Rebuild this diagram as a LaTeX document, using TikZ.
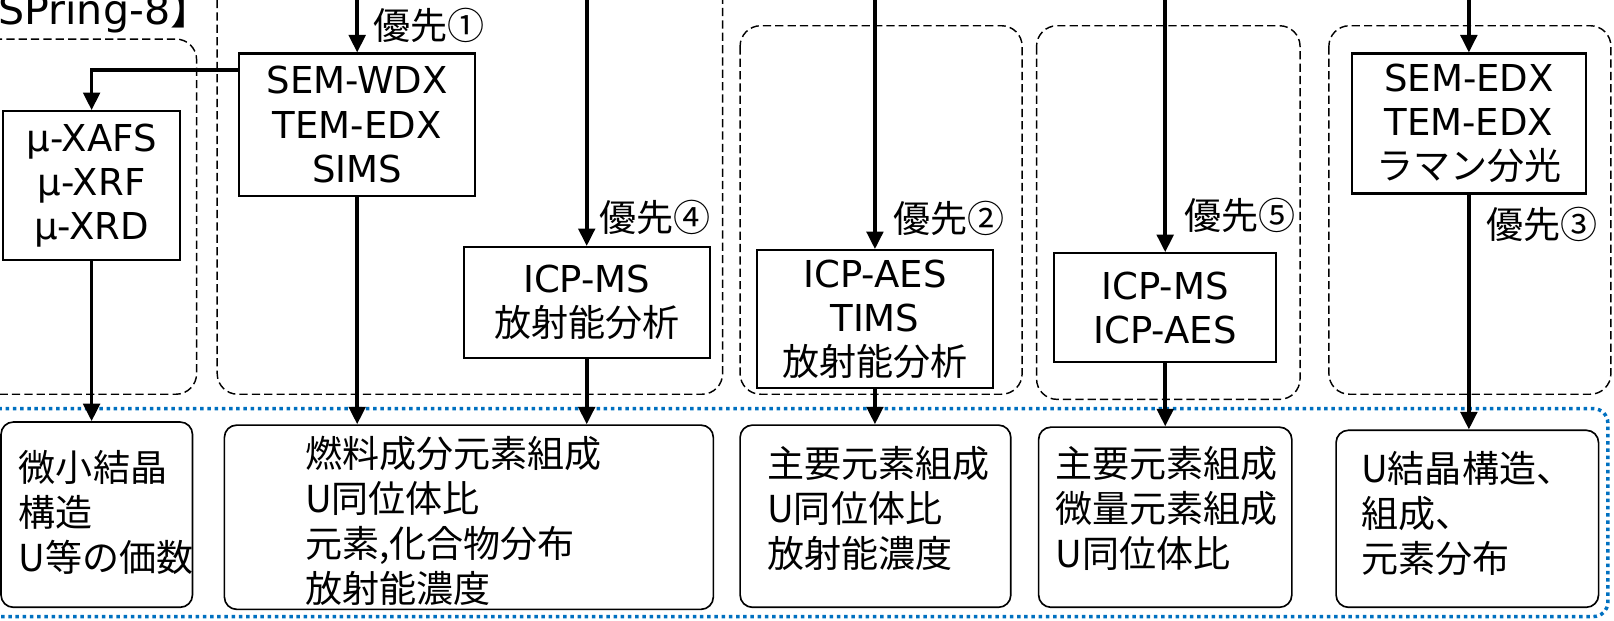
\documentclass[tikz,border=0pt]{standalone}
\usepackage{fontspec}
\setmainfont{DejaVu Sans}
\newfontfamily\jp{Noto Sans CJK JP}
\usetikzlibrary{arrows.meta,calc}
\definecolor{dotblue}{RGB}{0,112,192}
\begin{document}
\begin{tikzpicture}[x=0.5pt,y=-0.5pt,
  box/.style={draw, line width=1pt, inner sep=0pt, align=center, font=\fontsize{18}{21.5}\selectfont},
  res/.style={draw, line width=0.8pt, rounded corners=6pt, inner sep=0pt},
  restext/.style={align=left, inner sep=0pt, anchor=west, font=\jp\fontsize{18}{22}\selectfont},
  prio/.style={inner sep=0pt, font=\jp\fontsize{18}{18}\selectfont},
  grp/.style={draw, line width=0.7pt, dash pattern=on 4pt off 2pt, rounded corners=10pt},
  arr/.style={line width=1.8pt, -{Triangle[length=8.5pt,width=8pt]}},
]
\useasboundingbox (0,0) rectangle (1568,603);
\clip (0,0) rectangle (1568,603);

% title fragment
\node[anchor=base west, inner sep=0pt, font=\fontsize{20}{20}\selectfont] (title) at (-2,24) {SPring-8{\jp 】}};

% dashed groups
\draw[grp] (-20,38) rectangle (191,383);
\draw[grp] (211,-20) rectangle (702,383);
\draw[grp] (719,25) rectangle (993,383);
\draw[grp] (1007,25) rectangle (1263,388);
\draw[grp] (1291,25) rectangle (1565,383);

% blue dotted frame
\draw[dotblue, line width=1.7pt, dash pattern=on 1.7pt off 1.8pt, rounded corners=7pt] (-20,397) rectangle (1562,599);

% method boxes
\node[box, minimum width=86pt, minimum height=72.5pt] (mx) at (89,180.5) {μ-XAFS\\μ-XRF\\μ-XRD};
\node[box, minimum width=114.5pt, minimum height=69pt] (sw) at (347,121) {SEM-WDX\\TEM-EDX\\SIMS};
\node[box, minimum width=119.5pt, minimum height=54pt] (im1) at (570,294) {ICP-MS\\{\jp 放射能分析}};
\node[box, minimum width=115pt, minimum height=67pt] (ia) at (850,310) {ICP-AES\\TIMS\\{\jp 放射能分析}};
\node[box, minimum width=108pt, minimum height=53pt] (im2) at (1132,299) {ICP-MS\\ICP-AES};
\node[box, minimum width=114pt, minimum height=68pt] (se) at (1427,120) {SEM-EDX\\TEM-EDX\\{\jp ラマン分光}};

% priority labels
\node[prio] (p1) at (417,25) {優先①};
\node[prio] (p4) at (636,211) {優先④};
\node[prio] (p2) at (922,212) {優先②};
\node[prio] (p5) at (1205,209) {優先⑤};
\node[prio] (p3) at (1498,218) {優先③};

% result boxes
\node[res, minimum width=93pt, minimum height=90pt] (b1) at (94,500) {};
\node[res, minimum width=237.5pt, minimum height=89.5pt] (b2) at (455.5,502.5) {};
\node[res, minimum width=131.5pt, minimum height=88.5pt] (b3) at (850.5,501.5) {};
\node[res, minimum width=123pt, minimum height=87.5pt] (b4) at (1132,502.5) {};
\node[res, minimum width=127.5pt, minimum height=86pt] (b5) at (1425.5,504) {};

\node[restext] (b1t) at (18,498) {微小結晶\\構造\\U等の価数};
\node[restext] (b2t) at (296,506) {燃料成分元素組成\\U同位体比\\元素,化合物分布\\放射能濃度};
\node[restext] (b3t) at (745,494) {主要元素組成\\U同位体比\\放射能濃度};
\node[restext] (b4t) at (1025,494) {主要元素組成\\微量元素組成\\U同位体比};
\node[restext] (b5t) at (1322,499) {U結晶構造、\\組成、\\元素分布};

% incoming arrows from above
\coordinate (t1) at (347,-10);
\coordinate (t2) at (570,-10);
\coordinate (t3) at (850,-10);
\coordinate (t4) at (1132,-10);
\coordinate (t5) at (1427,-10);
\draw[arr] (t1) -- (sw.north);
\draw[arr] (t2) -- (im1.north);
\draw[arr] (t3) -- (ia.north);
\draw[arr] (t4) -- (im2.north);
\draw[arr] (t5) -- (se.north);

% branch to micro analysis
\coordinate (swl) at ($(sw.north west)!0.123!(sw.south west)$);
\draw[arr] (swl) -| (mx.north);

% arrows to results
\draw[arr] (mx.south) -- (mx.south |- b1.north);
\draw[arr] (sw.south) -- (sw.south |- b2.north);
\draw[arr] (im1.south) -- (im1.south |- b2.north);
\draw[arr] (ia.south) -- (ia.south |- b3.north);
\draw[arr] (im2.south) -- (im2.south |- b4.north);
\draw[arr] (se.south) -- (se.south |- b5.north);
\end{tikzpicture}
\end{document}
